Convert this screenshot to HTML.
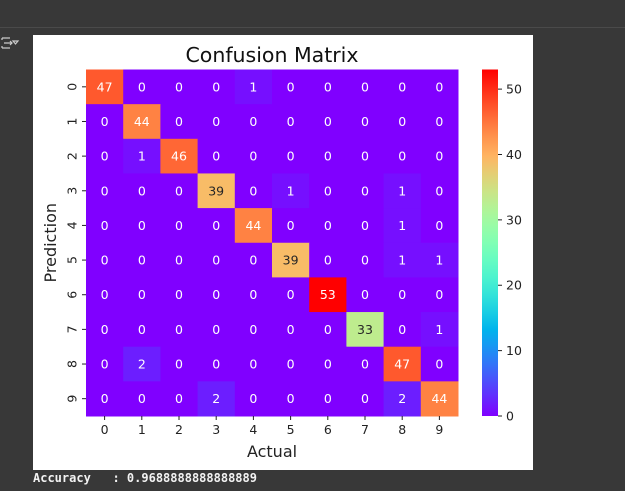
<!DOCTYPE html>
<html><head><meta charset="utf-8"><style>
body{margin:0;width:625px;height:491px;background:#383838;overflow:hidden;position:relative;font-family:"DejaVu Sans","Liberation Sans",sans-serif}
#fig{position:absolute;left:33px;top:35px;width:500px;height:435px;background:#fff}
#topline{position:absolute;left:0;top:27px;width:625px;height:1px;background:#4a4a4a}
#acc{position:absolute;left:33px;top:470px;color:#f2f2f2;font:bold 12px "DejaVu Sans Mono","Liberation Mono",monospace;white-space:pre;line-height:16px}
</style></head><body>
<div id="topline"></div>
<svg style="position:absolute;left:0;top:35px" width="20" height="16">
<path d="M2 3h8M2 13h8M2 3v2M2 13v-2M4 8h8M10 6l2 2-2 2M13 6h5l-2.5 3z" stroke="#ccc" fill="none" stroke-width="1.2"/></svg>
<div id="fig"></div>
<svg id="chart" style="position:absolute;left:0;top:0" width="625" height="491"></svg>
<div id="acc">Accuracy   : 0.9688888888888889</div>
<script>
const labels=["0","1","2","3","4","5","6","7","8","9"];
const matrix=[
[47,0,0,0,1,0,0,0,0,0],
[0,44,0,0,0,0,0,0,0,0],
[0,1,46,0,0,0,0,0,0,0],
[0,0,0,39,0,1,0,0,1,0],
[0,0,0,0,44,0,0,0,1,0],
[0,0,0,0,0,39,0,0,1,1],
[0,0,0,0,0,0,53,0,0,0],
[0,0,0,0,0,0,0,33,0,1],
[0,2,0,0,0,0,0,0,47,0],
[0,0,0,2,0,0,0,0,2,44]];
const cbTicks=[0,10,20,30,40,50];
const NS="http://www.w3.org/2000/svg";
const svg=document.getElementById('chart');
const X0=86,X1=458,Y0=69.5,Y1=416;
const n=labels.length,cw=(X1-X0)/n,ch=(Y1-Y0)/n;
let vmax=0;matrix.forEach(r=>r.forEach(v=>{if(v>vmax)vmax=v;}));
const CB0=482,CB1=498;
function cy(v){return Y1-(v/vmax)*(Y1-Y0);}
function rb(t){let r=Math.min(1,Math.abs(2*t-0.5)),g=Math.sin(Math.PI*t),b=Math.cos(Math.PI*t/2);return [r,g,Math.max(0,b)];}
function css(c){return 'rgb('+c.map(x=>Math.round(x*255)).join(',')+')';}
function lum(c){const l=c.map(x=>x<=0.03928?x/12.92:Math.pow((x+0.055)/1.055,2.4));return 0.2126*l[0]+0.7152*l[1]+0.0722*l[2];}
function mk(tag,a,txt){const e=document.createElementNS(NS,tag);for(const k in a)e.setAttribute(k,a[k]);if(txt!==undefined)e.textContent=txt;svg.appendChild(e);return e;}
for(let i=0;i<n;i++)for(let j=0;j<n;j++){
 const v=matrix[i][j],c=rb(v/vmax);
 const r=mk('rect',{x:X0+j*cw,y:Y0+i*ch,width:cw+0.5,height:ch+0.5,fill:css(c)});
 
 
 const t=mk('text',{x:X0+(j+.5)*cw,y:Y0+(i+.5)*ch+4.5,'text-anchor':'middle','font-size':12.5,fill:lum(c)>0.408?'#262626':'#ffffff'},String(v));
 
 
}
for(let k=0;k<n;k++){
 const x=X0+(k+.5)*cw;
 mk('line',{x1:x,x2:x,y1:Y1,y2:Y1+4,stroke:'#222'});
 const t=mk('text',{x:x,y:Y1+18,'text-anchor':'middle','font-size':12.5,fill:'#222'},labels[k]);
 
 
 const y=Y0+(k+.5)*ch;
 mk('line',{x1:X0-4,x2:X0,y1:y,y2:y,stroke:'#222'});
 const u=mk('text',{x:0,y:0,'text-anchor':'middle','font-size':12.5,fill:'#222',transform:'translate('+(X0-14)+','+y+') rotate(-90)',dy:'4.5'},labels[k]);
 
 
}
const defs=mk('defs',{});
const g=document.createElementNS(NS,'linearGradient');g.setAttribute('id','cbg');g.setAttribute('x1','0');g.setAttribute('y1','1');g.setAttribute('x2','0');g.setAttribute('y2','0');defs.appendChild(g);
for(let s=0;s<=20;s++){const st=document.createElementNS(NS,'stop');st.setAttribute('offset',s/20);st.setAttribute('stop-color',css(rb(s/20)));g.appendChild(st);}
const cb=mk('rect',{x:CB0,y:Y0,width:CB1-CB0,height:Y1-Y0,fill:'url(#cbg)'});


cbTicks.forEach(v=>{const y=cy(v);mk('line',{x1:CB1,x2:CB1+4,y1:y,y2:y,stroke:'#222'});
 const t=mk('text',{x:CB1+8,y:y+4.5,'font-size':12.5,fill:'#222'},String(v));
 
 });
const ti=mk('text',{x:(X0+X1)/2,y:62,'text-anchor':'middle','font-size':20.5,fill:'#111'},'Confusion Matrix');

const xa=mk('text',{x:(X0+X1)/2,y:457,'text-anchor':'middle','font-size':16,fill:'#222'},'Actual');

const ya=mk('text',{x:0,y:0,'text-anchor':'middle','font-size':16,fill:'#222',transform:'translate(56,'+((Y0+Y1)/2)+') rotate(-90)'},'Prediction');

</script>
</body></html>
